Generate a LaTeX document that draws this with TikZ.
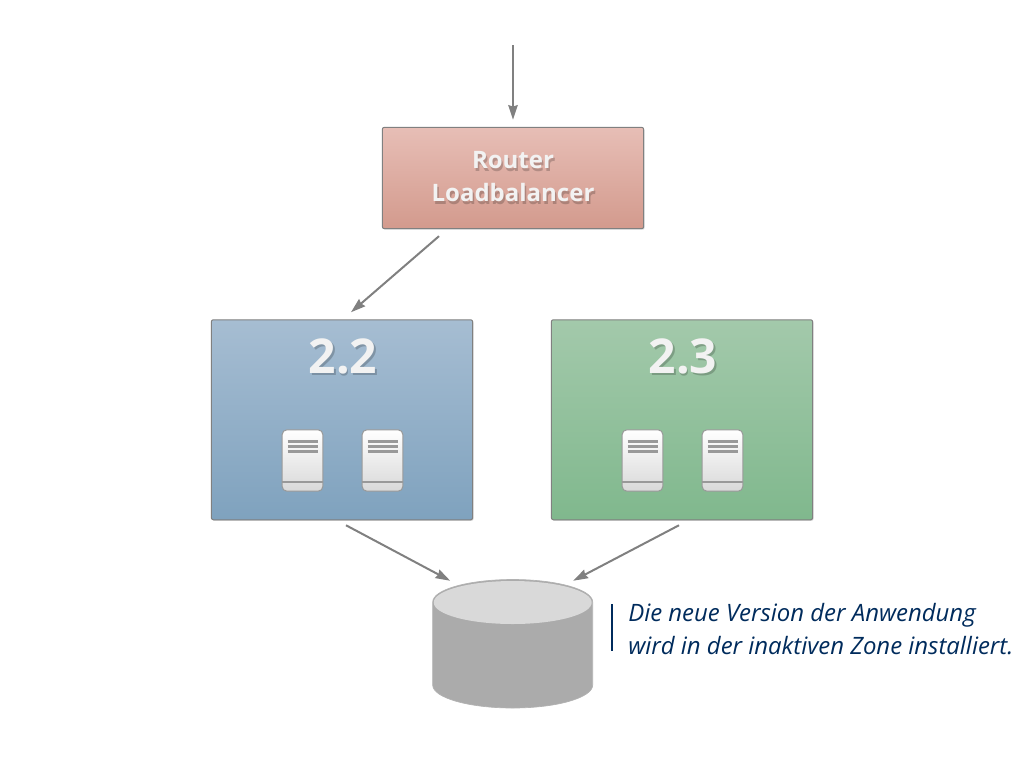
\documentclass[tikz,border=0pt]{standalone}
\usepackage{fontspec}
\setmainfont{Open Sans}
\usepackage{xcolor}
\usetikzlibrary{calc,arrows.meta,shadows}

\definecolor{routertop}{HTML}{E7BEB6}
\definecolor{routerbottom}{HTML}{D39A8D}
\definecolor{bluetop}{HTML}{A6BDD2}
\definecolor{bluebottom}{HTML}{7FA2BE}
\definecolor{greentop}{HTML}{A3C9AB}
\definecolor{greenbottom}{HTML}{80B88D}
\definecolor{notecolor}{HTML}{002B5C}

\tikzset{
    box/.style={draw=black!50, line width=0.75pt, rounded corners=1.5pt,
        drop shadow={shadow xshift=0.7pt, shadow yshift=-0.8pt, opacity=0.3}},
    flow/.style={draw=black!50, line width=1.5pt, -{Stealth[length=11pt,width=7pt,inset=1pt]}},
    boxtext/.style={text=white!95!black, align=center},
    boxshadow/.style={text=black, opacity=0.2, align=center},
    routerfont/.style={font=\bfseries\fontsize{18}{24.75}\selectfont},
    zonefont/.style={font=\bfseries\fontsize{36}{40}\selectfont},
    server/.style={draw=black!40, line width=0.75pt, rounded corners=3.5pt,
        top color=white, bottom color=black!15,
        minimum width=30.5pt, minimum height=46pt, inner sep=0pt},
    serverline/.style={draw=black!40, line width=2.25pt},
    serverfoot/.style={draw=black!40, line width=1.5pt},
    storagebox/.style={minimum width=120pt, minimum height=96.75pt, inner sep=0pt},
    storagebody/.style={fill=black!33, draw=black!30, line width=0.5pt},
    storagetop/.style={fill=black!15},
}

\begin{document}
\begin{tikzpicture}[x=0.75pt,y=-0.75pt]
    \useasboundingbox (0,0) rectangle (1024,768);

    % boxes
    \node[box, top color=routertop, bottom color=routerbottom,
        minimum width=196pt, minimum height=76pt] (router) at (513,178) {};
    \node[box, top color=bluetop, bottom color=bluebottom,
        minimum width=196pt, minimum height=150pt] (zoneold) at (342,419.75) {};
    \node[box, top color=greentop, bottom color=greenbottom,
        minimum width=196pt, minimum height=150pt] (zonenew) at (682,419.75) {};

    % labels
    \node[boxshadow, routerfont] (routershadow) at (514.5,179.5) {Router\\Loadbalancer};
    \node[boxtext, routerfont] (routertext) at (513,177) {Router\\Loadbalancer};
    \node[boxshadow, zonefont] (oldshadow) at (344.5,358.5) {2.2};
    \node[boxtext, zonefont] (oldtext) at (343,356.5) {2.2};
    \node[boxshadow, zonefont] (newshadow) at (684.5,358.5) {2.3};
    \node[boxtext, zonefont] (newtext) at (683,356.5) {2.3};

    % servers
    \foreach \s/\x in {a/302.5,b/382.5,c/642.5,d/722.5} {
        \node[server] (server\s) at (\x,460.5) {};
        \foreach \y in {-19.5,-14.5,-9.5} {
            \draw[serverline] ($(server\s)+(-15,\y)$) -- ($(server\s)+(15,\y)$);
        }
        \draw[serverfoot] ($(server\s)+(-20.5,21.5)$) -- ($(server\s)+(20.5,21.5)$);
    }

    % database
    \node[storagebox] (storage) at (512.7,644) {};
    \path[storagebody] (432.7,602) -- (432.7,685) arc[start angle=180, end angle=0, x radius=80, y radius=23]
        -- (592.7,602) arc[start angle=0, end angle=-180, x radius=80, y radius=22.5] -- cycle;
    \path[storagetop] (512.7,602.5) ellipse [x radius=79, y radius=21.5];

    % arrows
    \coordinate (entry) at (513,45);
    \draw[flow] (entry) -- ($(router.north)+(0,-7)$);
    \draw[flow] ($(router.south)+(-74,7)$) -- ($(zoneold.north)+(9,-7)$);
    \draw[flow] ($(zoneold.south)+(4,5)$) -- ($(storage.north)+(-62.5,1.5)$);
    \draw[flow] ($(zonenew.south)+(-3,5)$) -- ($(storage.north)+(60.5,1.5)$);

    % note
    \coordinate (notetop) at (611.5,604);
    \coordinate (notebottom) at (611.5,651);
    \draw[notecolor, line width=1.5pt] (notetop) -- (notebottom);
    \node[anchor=north west, inner sep=0pt, align=left, text=notecolor,
        font=\itshape\fontsize{17.95}{24.5}\selectfont] (note) at (628,603)
        {Die neue Version der Anwendung\\wird in der inaktiven Zone installiert.};
\end{tikzpicture}
\end{document}
